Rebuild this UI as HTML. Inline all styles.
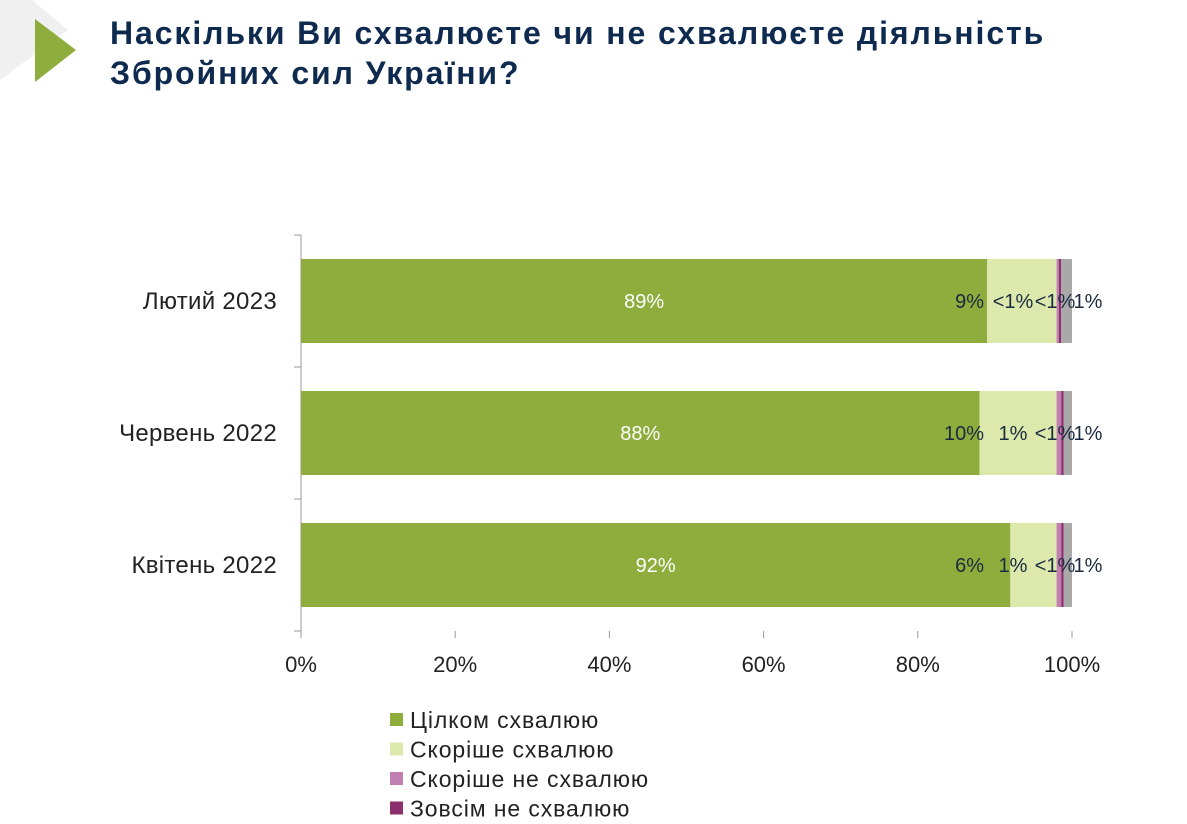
<!DOCTYPE html>
<html><head><meta charset="utf-8"><style>
body{margin:0;width:1187px;height:824px;background:#fff;overflow:hidden;font-family:"Liberation Sans","DejaVu Sans",sans-serif;position:relative}
#title{position:absolute;left:110px;top:13px;font-size:32px;font-weight:bold;color:#0e2a4f;line-height:40px;letter-spacing:1.9px}
</style></head><body>
<svg width="120" height="100" style="position:absolute;left:0;top:0">
<polygon points="0,0 32,0 68,30 0,80" fill="#f0f0f0"/>
<polygon points="35,19 76,50 35,82" fill="#8fad3c"/>
</svg>
<div id="title">Наскільки Ви схвалюєте чи не схвалюєте діяльність<br>Збройних сил України?</div>
<svg id="chart" width="1187" height="824" style="position:absolute;left:0;top:0"></svg>
<script>
const categories=["Лютий 2023","Червень 2022","Квітень 2022"];
const fullyApprove=[89,88,92];
const ratherApprove=[9,10,6];
const ratherDisapprove=[0.3,0.6,0.6];
const fullyDisapprove=[0.3,0.3,0.3];
const hardToSay=[1.4,1.1,1.1];
const labelsFully=["89%","88%","92%"];
const labelsRather=["9%","10%","6%"];
const labelsRatherDis=["<1%","1%","1%"];
const labelsFullyDis=["<1%","<1%","<1%"];
const labelsHard=["1%","1%","1%"];
const ticks=[0,20,40,60,80,100];
const tickLabels=["0%","20%","40%","60%","80%","100%"];
const legendNames=["Цілком схвалюю","Скоріше схвалюю","Скоріше не схвалюю","Зовсім не схвалюю"];
const colors=["#8fad3c","#dde8ac","#c07fb0","#8e2f6e","#a9a9a9"];
const NS="http://www.w3.org/2000/svg",svg=document.getElementById('chart');
const x=v=>301+v*7.71, rowTop=i=>259+i*132, bh=84;
function el(t,a,txt){const e=document.createElementNS(NS,t);for(const k in a)e.setAttribute(k,a[k]);if(txt!=null)e.textContent=txt;svg.appendChild(e);return e;}
let ax=el('line',{x1:301,y1:235,x2:301,y2:631,stroke:'#999'});


for(let i=0;i<=3;i++){let t=el('line',{x1:294,x2:301,y1:235+i*132,y2:235+i*132,stroke:'#999'});

}
ticks.forEach((v,i)=>{let t=el('line',{x1:x(v),x2:x(v),y1:631,y2:638,stroke:'#999'});


let l=el('text',{x:x(v),y:672,'font-size':22,'text-anchor':'middle',fill:'#222'},tickLabels[i]);

});
const series=[fullyApprove,ratherApprove,ratherDisapprove,fullyDisapprove,hardToSay];
categories.forEach((c,i)=>{
 let cl=el('text',{x:277,y:rowTop(i)+bh/2+8,'font-size':24,'letter-spacing':'0.3','text-anchor':'end',fill:'#222'},c);
 
 
 let acc=0;
 series.forEach((s,k)=>{let r=el('rect',{x:x(acc),y:rowTop(i),width:x(acc+s[i])-x(acc),height:bh,fill:colors[k]});
  
  
  acc+=s[i];});
 const cy=rowTop(i)+bh/2+7;
 let g=el('text',{x:x(fullyApprove[i]/2),y:cy,'font-size':20,'text-anchor':'middle',fill:'#fff'},labelsFully[i]);
 
 
 const end=x(acc);
 const lab=[[labelsRather[i],end-88,'end'],[labelsRatherDis[i],end-59,'middle'],[labelsFullyDis[i],end-17,'middle'],[labelsHard[i],end+16,'middle']];
 lab.forEach(l=>{let t=el('text',{x:l[1],y:cy,'font-size':20,'text-anchor':l[2],fill:'#1a2a40'},l[0]);
  
  });
});
legendNames.forEach((n,i)=>{
 let r=el('rect',{x:390,y:713+i*29.5,width:13,height:13,fill:colors[i]});
 
 
 let t=el('text',{x:410,y:728+i*29.5,'font-size':23,'letter-spacing':'0.9',fill:'#222'},n);
 
 
});
</script>
</body></html>
